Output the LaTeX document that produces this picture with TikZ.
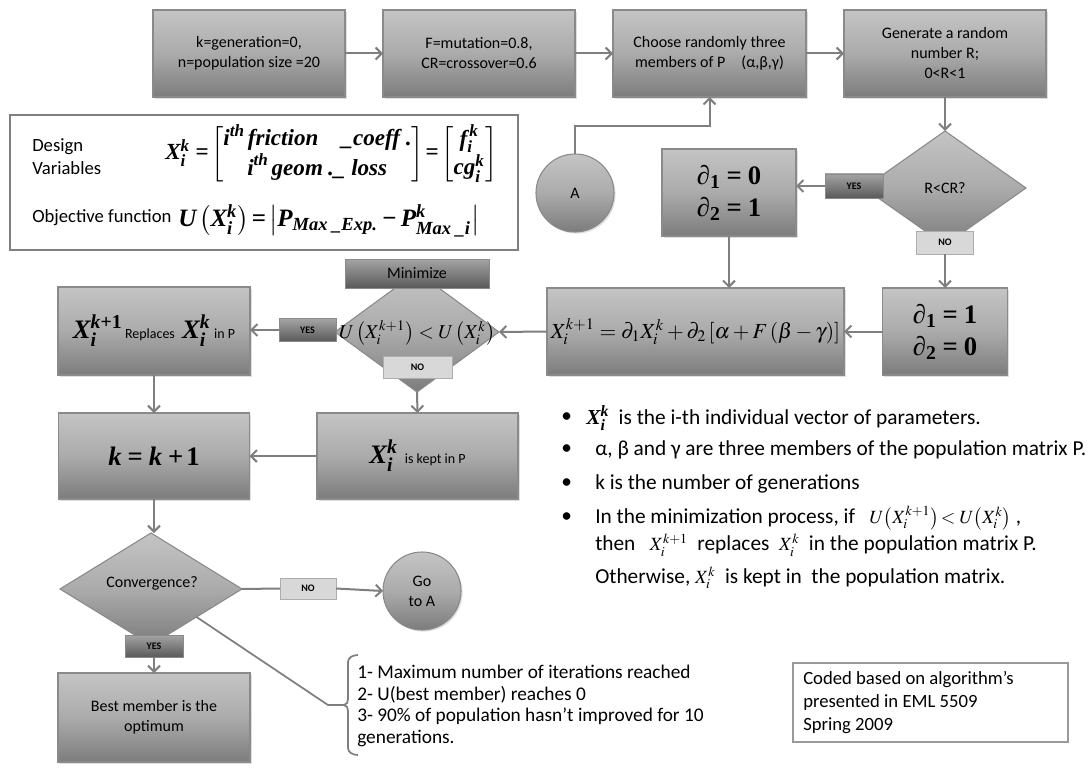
\documentclass[tikz,border=0pt]{standalone}
\usepackage{amsmath}
\usepackage{mathptmx}
\usepackage[no-math]{fontspec}
\setmainfont{Carlito}
\newfontfamily\tms{Liberation Serif}
\newcommand\bi[1]{\text{\tms\bfseries\itshape #1}}
\newcommand\bu[1]{\text{\tms\bfseries #1}}
\usepackage{graphicx}
\usetikzlibrary{shapes.geometric,arrows.meta,shadows,calc}
\definecolor{arrgray}{HTML}{7F7F7F}
\definecolor{brd}{HTML}{8A8A8A}
\definecolor{gtop}{HTML}{C4C4C4}
\definecolor{gmid}{HTML}{ABABAB}
\definecolor{gbot}{HTML}{7C7C7C}
\definecolor{dtop}{HTML}{A4A4A4}
\definecolor{dbot}{HTML}{5A5A5A}
\definecolor{nofill}{HTML}{D8D8D8}
\tikzset{
  sz/.style 2 args={minimum width=#1*0.75pt, minimum height=#2*0.75pt},
  gbox/.style={rectangle, draw=brd, line width=0.8pt, top color=gtop, bottom color=gbot, middle color=gmid,
    inner sep=0pt, outer sep=0pt, align=center, font=\fontsize{12}{15}\selectfont,
    drop shadow={shadow xshift=1.2pt, shadow yshift=-1.2pt, opacity=0.25}},
  gdia/.style={diamond, draw=brd, line width=0.8pt, top color=gtop, bottom color=gbot, middle color=gmid,
    inner sep=0pt, outer sep=0pt, align=center, font=\fontsize{12}{15}\selectfont},
  gcirc/.style={circle, draw=brd, line width=0.8pt, top color=gtop, bottom color=gbot, middle color=gmid,
    inner sep=0pt, outer sep=0pt, minimum size=78*0.75pt, align=center, font=\fontsize{12}{15}\selectfont,
    drop shadow={shadow xshift=1.2pt, shadow yshift=-1.2pt, opacity=0.25}},
  yeslab/.style={rectangle, draw=brd, line width=0.6pt, top color=dtop, bottom color=dbot,
    inner sep=0pt, outer sep=0pt, font=\fontsize{7.5}{9}\bfseries\selectfont},
  darklab/.style={rectangle, draw=brd, line width=0.6pt, top color=dtop, bottom color=dbot,
    inner sep=0pt, outer sep=0pt, font=\fontsize{12}{14}\selectfont,
    drop shadow={shadow xshift=1pt, shadow yshift=-1pt, opacity=0.25}},
  nolab/.style={rectangle, draw=brd!70, line width=0.6pt, fill=nofill,
    inner sep=0pt, outer sep=0pt, font=\fontsize{7.5}{9}\bfseries\selectfont},
  arr/.style={draw=arrgray, line width=1.5pt, -{Straight Barb[length=4.5pt,width=9pt]}},
  lineg/.style={draw=arrgray, line width=1.5pt},
  dvtext/.style={inner sep=0pt, align=left, font=\fontsize{14}{17}\selectfont},
  lst/.style={inner sep=0pt, anchor=west, font=\fontsize{16}{19}\selectfont},
}
\begin{document}
\begin{tikzpicture}[x=0.75pt,y=-0.75pt]
\fill[white] (0,0) rectangle (1092,770);
\useasboundingbox (0,0) rectangle (1092,770);

% top row
\node[gbox, sz={192}{87}] (b1) at (249,53.5) {k=generation=0,\\n=population size =20};
\node[gbox, sz={192}{87}] (b2) at (479,53.5) {F=mutation=0.8,\\CR=crossover=0.6};
\node[gbox, sz={193}{87}] (b3) at (709.5,53.5) {Choose randomly three\\members of P\quad(α,β,γ)};
\node[gbox, sz={202}{87}] (b4) at (945,53.5) {Generate a random\\number R;\\0<R<1};
\draw[arr] (b1) -- (b2);
\draw[arr] (b2) -- (b3);
\draw[arr] (b3) -- (b4);

% design variables box
\node[rectangle, draw=arrgray, line width=1.6pt, fill=white, sz={508}{135}] (dv) at (264,182.5) {};
\node[dvtext, anchor=west] (dvlab) at (32,156.5) {Design\\Variables};
\node[inner sep=0pt, anchor=west] (eq1) at (165,154) {\resizebox{249pt}{!}{$\bi{X}_{\bi{i}}^{\bi{k}}\ \bu{=}\begin{bmatrix} \bi{i}^{\bi{th}}\,\bi{friction}\quad\bi{\_coeff}\ \bu{.} \\ \bi{i}^{\bi{th}}\,\bi{geom}\ \bi{.\_\ loss}\end{bmatrix}\bu{=}\begin{bmatrix} \bi{f}_{\bi{i}}^{\,\bi{k}}\\ \bi{cg}_{\bi{i}}^{\bi{k}}\end{bmatrix}$}};
\node[dvtext, anchor=west] (oflab) at (32,218) {Objective function};
\node[inner sep=0pt, anchor=west] (eq2) at (178,221) {\resizebox{226pt}{!}{$\bi{U}\left(\bi{X}_{\bi{i}}^{\bi{k}}\right)\bu{=}\left|\bi{P}_{\bi{Max\ \_Exp.}}\bu{\,−\,}\bi{P}^{\bi{k}}_{\bi{Max\ \_i}}\right|$}};

% circle A
\node[gcirc] (A) at (575,193) {A};
\draw[arr] (A.north) -- ++(0,-28) -| (b3.south);

% R<CR? decision
\node[gdia, sz={162}{114}] (rc) at (945,188) {R<CR?};
\draw[arr] (b4.south) -- (rc.north);
\node[gbox, sz={134}{87}, font=\fontsize{20}{24}\selectfont] (d0) at (729,192.5) {$\bi{∂}_{\bu{1}}\ \bu{=}\ \bu{0}$\\$\bi{∂}_{\bu{2}}\ \bu{=}\ \bu{1}$};
\node[yeslab, sz={58}{24}] (y1) at (854,186) {YES};
\draw[arr] (y1.west) -- (y1.west -| d0.east);
\node[nolab, sz={57}{23}] (n1) at (945,242.5) {NO};
\node[gbox, sz={125}{87}, font=\fontsize{20}{24}\selectfont] (d1) at (945,331.5) {$\bi{∂}_{\bu{1}}\ \bu{=}\ \bu{1}$\\$\bi{∂}_{\bu{2}}\ \bu{=}\ \bu{0}$};
\draw[arr] (n1.south) -- (d1.north);

% formula
\node[gbox, sz={297}{87}] (form) at (695.5,331.5) {\resizebox{217pt}{!}{$X_i^{k+1}=\partial_1X_i^k+\partial_2\left[\alpha+F\,(\beta-\gamma)\right]$}};
\draw[arr] (d0.south) -- (d0.south |- form.north);
\draw[arr] (d1.west) -- (form.east);

% minimize decision
\node[gdia, sz={164}{120}] (du) at (417,332) {};
\node[inner sep=0pt] (duf) at (417,333) {\resizebox{117pt}{!}{$U\left(X_i^{k+1}\right)<U\left(X_i^k\right)$}};
\draw[arr] (form.west) -- (du.east);
\node[darklab, sz={144}{29}] (mini) at (417,273.5) {Minimize};
\node[nolab, sz={69}{22}] (n2) at (417.5,367) {NO};
\node[gbox, sz={201}{86}] (kept) at (417.5,456) {{\fontsize{20}{22}\selectfont$\bi{X}_{\bi{i}}^{\bi{k}}$}\ \ {\fontsize{10.5}{12}\selectfont is kept in P}};
\draw[arr] (du.south) -- (kept.north);
\node[yeslab, sz={57}{23}] (y2) at (307.5,330) {YES};
\draw[lineg] (du.west) -- (y2.east);
\node[gbox, sz={192}{88}] (rep) at (154,331) {{\fontsize{20}{22}\selectfont$\bi{X}_{\bi{i}}^{\bi{k}\bu{+1}}$}\,{\fontsize{10.5}{12}\selectfont Replaces}\ \ {\fontsize{20}{22}\selectfont$\bi{X}_{\bi{i}}^{\bi{k}}$}\ {\fontsize{10.5}{12}\selectfont in P}};
\draw[arr] (y2.west) -- (y2.west -| rep.east);

% k = k+1
\node[gbox, sz={191}{86}, font=\fontsize{20}{22}\selectfont] (kb) at (154,456) {$\bi{k}\ \bu{=}\ \bi{k}\ \bu{+}\,\bu{1}$};
\draw[arr] (rep.south) -- (kb.north);
\draw[arr] (kept.west) -- (kb.east);

% convergence
\node[gdia, sz={182}{112}] (cv) at (151,589) {};
\node[inner sep=0pt, font=\fontsize{12}{15}\selectfont] (cvt) at (152,583) {Convergence?};
\draw[arr] (kb.south) -- (kb.south |- cv.north);
\node[yeslab, sz={58}{22}] (y3) at (154,646) {YES};
\node[gbox, sz={192}{89}] (best) at (154,717.5) {Best member is the\\optimum};
\draw[arr] (y3.south) -- (best.north);
\node[nolab, sz={56}{21}] (n3) at (308,588.5) {NO};
\node[gcirc] (goA) at (422,591) {Go\\to A};
\draw[lineg] (cv.east) -- (n3.west);
\draw[arr] (n3.east) -- (goA.west);

% bracket and criteria
\coordinate (bk) at (344,705);
\draw[lineg, line width=1.3pt] (cv.south east) -- (328,705) -- (bk);
\draw[lineg, line width=1.3pt] (358,655) to[out=180,in=90] (348,662) -- (348,699) to[out=-90,in=0] (bk)
   to[out=0,in=90] (348,711) -- (348,748) to[out=-90,in=180] (358,755);
\node[inner sep=0pt, anchor=west, align=left, font=\fontsize{14.5}{16.3}\selectfont] (crit) at (357,706)
  {1- Maximum number of iterations reached\\2- U(best member) reaches 0\\3- 90\% of population hasn’t improved for 10\\generations.};

% bullet list
\node[lst] (bu1) at (561,418) {•};
\node[lst] (l1) at (586,418) {$\bi{X}_{\bi{i}}^{\bi{k}}$\ \ is the i-th individual vector of parameters.};
\node[lst] (bu2) at (561,450) {•};
\node[lst] (l2) at (595,450) {α, β and γ are three members of the population matrix P.};
\node[lst] (bu3) at (561,484) {•};
\node[lst] (l3) at (595,484) {k is the number of generations};
\node[lst] (bu4) at (561,518) {•};
\node[lst] (l4) at (595,518) {In the minimization process, if\ \ \ {\fontsize{14}{16}\selectfont$U\!\left(X_i^{k+1}\right)\!<U\!\left(X_i^k\right)$} ,};
\node[lst] (l5) at (595,545) {then\ \ \ {\fontsize{14}{16}\selectfont$X_i^{k+1}$}\ \ replaces\ \ {\fontsize{14}{16}\selectfont$X_i^k$}\ \ in the population matrix P.};
\node[lst] (l6) at (595,578) {Otherwise, {\fontsize{14}{16}\selectfont$X_i^k$}\ \ is kept in\ \ the population matrix.};

% coded box
\node[rectangle, draw=arrgray!80, line width=1.2pt, fill=white, sz={275}{79}] (coded) at (930.5,702.5) {};
\node[inner sep=0pt, anchor=west, align=left, font=\fontsize{14}{17.25}\selectfont] (codedt) at (803,703)
  {Coded based on algorithm’s\\presented in EML 5509\\Spring 2009};
\end{tikzpicture}
\end{document}
